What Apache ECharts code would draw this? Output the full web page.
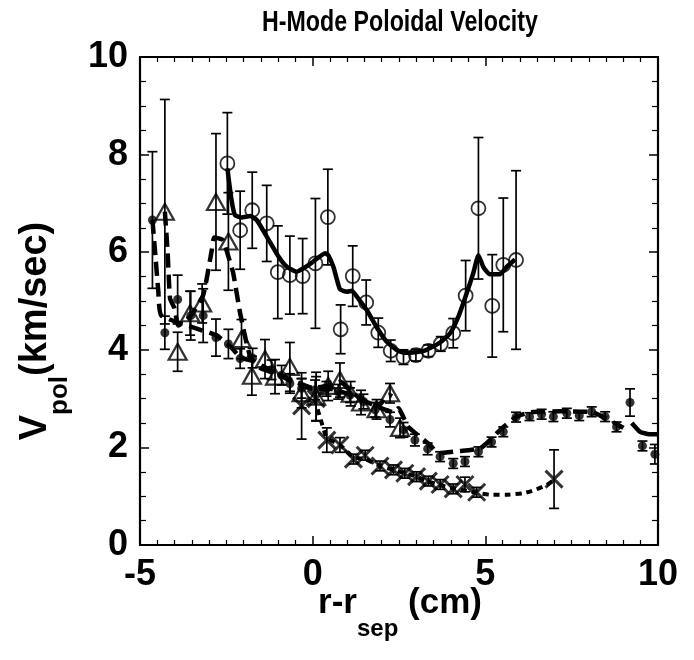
<!DOCTYPE html>
<html><head><meta charset="utf-8">
<script src="https://cdn.jsdelivr.net/npm/echarts@6/dist/echarts.min.js"></script>
<style>html,body{margin:0;padding:0;background:#fff}#c{width:694px;height:660px}</style>
</head><body><div id="c"></div>
<script>
// [x, y, error]
const openCircles = [
  [-2.47,7.82,1.04],[-2.10,6.45,0.80],[-1.75,6.86,0.78],[-1.33,6.59,0.78],[-1.01,5.59,0.95],
  [-0.66,5.53,0.80],[-0.29,5.51,0.77],[0.08,5.77,1.33],[0.44,6.72,0.98],[0.81,4.42,0.50],
  [1.16,5.51,0.62],[1.55,4.97,0.46],[1.90,4.35,0.30],[2.26,3.98,0.22],[2.63,3.85,0.15],
  [2.99,3.89,0.12],[3.35,3.98,0.12],[3.71,4.12,0.15],[4.07,4.34,0.30],[4.43,5.11,0.72],
  [4.80,6.90,1.45],[5.20,4.90,1.05],[5.52,5.74,1.37],[5.89,5.84,1.83]
];
const triangles = [
  [-4.28,6.83,2.30],[-3.91,3.96,0.40],[-3.55,4.75,0.45],[-3.20,4.95,0.40],[-2.80,7.03,1.40],
  [-2.44,6.22,1.00],[-2.06,4.22,0.40],[-1.76,3.47,0.40],[-1.38,3.81,0.40],[-1.09,3.45,0.35],
  [-0.66,3.65,0.50],[-0.32,3.11,0.30],[0.10,3.04,0.50],[0.45,3.26,0.30],[0.79,3.38,0.35],
  [1.10,3.10,0.25],[1.40,2.92,0.25],[1.85,2.78,0.20],[2.24,3.11,0.20],[2.53,2.40,0.20]
];
const filledCircles = [
  [-4.64,6.66,1.40],[-4.28,4.35,0.34],[-3.91,5.03,0.50],[-3.53,4.70,0.50],[-3.17,4.70,0.55],
  [-2.80,4.25,0.38],[-2.44,4.12,0.30],[-2.10,3.82,0.20],[-1.74,3.83,0.20],[-1.19,3.59,0.20],
  [-0.90,3.48,0.20],[-0.66,3.31,0.20],[-0.32,3.21,0.20],[0.07,3.18,0.20],[0.40,3.20,0.15],
  [0.74,3.14,0.15],[1.08,3.07,0.15],[1.47,2.94,0.15],[1.81,2.77,0.15],[2.24,2.57,0.15],
  [2.63,2.36,0.15],[2.96,2.15,0.12],[3.33,1.97,0.12],[3.69,1.81,0.10],[4.07,1.67,0.10],
  [4.41,1.71,0.10],[4.80,1.91,0.10],[5.18,2.11,0.10],[5.52,2.32,0.10],[5.89,2.62,0.10],
  [6.28,2.63,0.08],[6.63,2.68,0.10],[6.97,2.63,0.10],[7.36,2.70,0.10],[7.72,2.65,0.10],
  [8.08,2.73,0.10],[8.47,2.63,0.10],[8.80,2.42,0.10],[9.19,2.92,0.28],[9.55,2.03,0.10],
  [9.91,1.86,0.20]
];
const crosses = [
  [-0.32,2.85,0.68],[0.10,3.00,0.45],[0.41,2.15,0.25],[0.79,2.05,0.15],[1.18,1.76,0.10],
  [1.52,1.84,0.10],[1.95,1.62,0.10],[2.34,1.54,0.10],[2.67,1.47,0.10],[3.01,1.40,0.10],
  [3.35,1.31,0.10],[3.69,1.24,0.10],[4.07,1.15,0.10],[4.41,1.24,0.15],[4.75,1.08,0.10],
  [6.99,1.35,0.60]
];
// fitted curves [x, y]
const circleFit = [
  [-2.47,7.72],[-2.35,7.07],[-2.25,6.76],[-2.06,6.71],[-1.81,6.74],[-1.62,6.66],[-1.33,6.32],
  [-0.99,5.91],[-0.75,5.70],[-0.46,5.60],[-0.20,5.70],[0.02,5.81],[0.36,5.98],[0.45,5.94],
  [0.60,5.70],[0.79,5.24],[0.99,5.19],[1.13,5.21],[1.32,5.05],[1.56,4.82],[1.90,4.41],
  [2.14,4.17],[2.43,4.00],[2.63,3.94],[2.96,3.95],[3.30,4.00],[3.69,4.15],[3.98,4.34],
  [4.22,4.68],[4.46,5.16],[4.65,5.57],[4.80,5.94],[4.94,5.70],[5.12,5.55],[5.43,5.55],
  [5.62,5.70],[5.86,5.85]
];
const triangleFit = [
  [-4.28,6.83],[-4.20,6.00],[-4.13,5.05],[-4.00,4.85],[-3.89,4.50],[-3.55,4.68],[-3.17,5.12],
  [-2.92,6.05],[-2.85,6.30],[-2.60,6.25],[-2.44,5.91],[-2.30,5.57],[-2.10,4.75],[-1.81,3.86],
  [-1.50,3.62],[-1.00,3.50],[-0.50,3.35],[0.00,3.22],[0.40,3.26],[0.80,3.35],[1.10,3.15],
  [1.50,2.95],[1.90,2.85],[2.20,3.08],[2.30,3.05]
];
const filledFit = [
  [-4.64,6.66],[-4.55,5.90],[-4.47,5.20],[-4.38,4.70],
  [-2.80,4.30],[-2.40,4.08],[-2.10,3.85],[-1.70,3.76],[-1.20,3.57],[-0.60,3.35],[0.00,3.20],
  [0.50,3.20],[1.00,3.10],[1.50,2.95],[2.00,2.80],[2.35,2.72],[2.48,2.80],[2.77,2.42],
  [3.40,2.05],[3.64,1.88],[4.20,1.92],[4.85,1.98],[5.14,2.15],[5.43,2.36],[5.91,2.63],
  [6.30,2.72],[7.20,2.74],[8.10,2.72],[8.47,2.60],[8.85,2.46],[9.00,2.40]
];
const filledFitEdge = [
  [9.24,2.50],[9.48,2.32],[9.75,2.27],[10.00,2.27]
];
const crossFit = [
  [0.05,3.00],[0.20,2.65],[0.41,2.20],[0.79,2.05],[1.18,1.80],[1.52,1.76],[1.95,1.62],
  [2.34,1.54],[2.67,1.47],[3.01,1.40],[3.35,1.30],[3.69,1.23],[4.07,1.16],[4.41,1.12],
  [4.75,1.07],[5.14,1.03],[5.60,1.03],[6.10,1.06],[6.44,1.13],[6.78,1.23],[6.99,1.33]
];

const FONT = "'Liberation Sans', Arial, Helvetica, sans-serif";
const BLACK = '#000';

function errorBars(data) {
  return {
    type: 'custom', silent: true, clip: true, z: 2,
    data: data.map(d => [d[0], d[1] - d[2], d[1] + d[2]]),
    encode: { x: 0, y: [1, 2] },
    renderItem: function (params, api) {
      const x = api.value(0);
      const lo = api.coord([x, api.value(1)]);
      const hi = api.coord([x, api.value(2)]);
      const w = 5;
      const st = { stroke: BLACK, lineWidth: 1.7 };
      return { type: 'group', children: [
        { type: 'line', shape: { x1: lo[0], y1: lo[1], x2: hi[0], y2: hi[1] }, style: st },
        { type: 'line', shape: { x1: lo[0] - w, y1: lo[1], x2: lo[0] + w, y2: lo[1] }, style: st },
        { type: 'line', shape: { x1: hi[0] - w, y1: hi[1], x2: hi[0] + w, y2: hi[1] }, style: st }
      ]};
    }
  };
}
function fitLine(data, width, dash) {
  return {
    type: 'line', data: data, showSymbol: false, symbol: 'none', silent: true, z: 3,
    smooth: 0.15, clip: true,
    lineStyle: { color: BLACK, width: width, type: dash, cap: 'butt', join: 'round' }
  };
}
function axisCommon(extra) {
  return Object.assign({
    type: 'value',
    axisLine: { show: true, onZero: false, lineStyle: { color: BLACK, width: 2.2 } },
    axisTick: { show: true, inside: true, length: 9, lineStyle: { color: BLACK, width: 1.5 } },
    minorTick: { show: true, length: 5, lineStyle: { color: BLACK, width: 1.2 } },
    splitLine: { show: false },
    axisLabel: { color: BLACK, fontSize: 36, fontWeight: 'bold', fontFamily: FONT, margin: 12 }
  }, extra);
}

const chart = echarts.init(document.getElementById('c'), null, { renderer: 'canvas' });
chart.setOption({
  animation: false,
  backgroundColor: '#fff',
  grid: { left: 140, right: 36, top: 57, bottom: 115 },
  xAxis: [
    axisCommon({ min: -5, max: 10, interval: 5, position: 'bottom',
      minorTick: { show: true, splitNumber: 10, length: 5, lineStyle: { color: BLACK, width: 1.2 } } }),
    axisCommon({ min: -5, max: 10, interval: 5, position: 'top', axisLabel: { show: false },
      minorTick: { show: true, splitNumber: 10, length: 5, lineStyle: { color: BLACK, width: 1.2 } } })
  ],
  yAxis: [
    axisCommon({ min: 0, max: 10, interval: 2, position: 'left',
      minorTick: { show: true, splitNumber: 4, length: 6, lineStyle: { color: BLACK, width: 1.2 } } }),
    axisCommon({ min: 0, max: 10, interval: 2, position: 'right', axisLabel: { show: false },
      minorTick: { show: true, splitNumber: 4, length: 6, lineStyle: { color: BLACK, width: 1.2 } } })
  ],
  graphic: [
    {
      type: 'text', x: 400, y: 23, scaleX: 0.8, z: 10,
      style: {
        text: 'H-Mode Poloidal Velocity', align: 'center', verticalAlign: 'middle',
        fontFamily: FONT, fontWeight: 'bold', fontSize: 29, fill: BLACK
      }
    },
    {
      type: 'text', x: 400, y: 603, z: 10,
      style: {
        text: '{m|r-r}{s|sep}{m| (cm)}',
        align: 'center', verticalAlign: 'middle',
        rich: {
          m: { fontFamily: FONT, fontWeight: 'bold', fontSize: 35, fill: BLACK },
          s: { fontFamily: FONT, fontWeight: 'bold', fontSize: 24, fill: BLACK, padding: [52, 0, 0, 0] }
        }
      }
    },
    {
      type: 'text', x: 36, y: 331, rotation: Math.PI / 2, z: 10,
      style: {
        text: '{m|V}{s|pol}{m|(km/sec)}',
        align: 'center', verticalAlign: 'middle',
        rich: {
          m: { fontFamily: FONT, fontWeight: 'bold', fontSize: 38, fill: BLACK },
          s: { fontFamily: FONT, fontWeight: 'bold', fontSize: 26, fill: BLACK, padding: [48, 0, 0, 0] }
        }
      }
    }
  ],
  series: [
    errorBars(openCircles),
    errorBars(triangles),
    errorBars(filledCircles),
    errorBars(crosses),
    fitLine(circleFit, 4.5, 'solid'),
    fitLine(triangleFit, 4.5, [14, 7]),
    fitLine(filledFit, 4.5, [14, 7]),
    fitLine(filledFitEdge, 4.5, 'solid'),
    fitLine(crossFit, 4, [6, 5]),
    {
      type: 'scatter', data: openCircles.map(d => [d[0], d[1]]), symbol: 'circle', symbolSize: 14, z: 5,
      itemStyle: { color: 'rgba(0,0,0,0)', borderColor: BLACK, borderWidth: 1.8 }
    },
    {
      type: 'scatter', data: triangles.map(d => [d[0], d[1]]), symbol: 'triangle', symbolSize: [18, 16], z: 5,
      itemStyle: { color: 'rgba(0,0,0,0)', borderColor: BLACK, borderWidth: 2.2 }
    },
    {
      type: 'scatter', data: filledCircles.map(d => [d[0], d[1]]), symbol: 'circle', symbolSize: 9, z: 5,
      itemStyle: { color: BLACK }
    },
    {
      type: 'scatter', data: crosses.map(d => [d[0], d[1]]), symbol: 'path://M0,0L10,10M10,0L0,10', symbolSize: 17, z: 5,
      itemStyle: { color: 'rgba(0,0,0,0)', borderColor: BLACK, borderWidth: 3 }
    }
  ]
});
</script>
</body></html>
